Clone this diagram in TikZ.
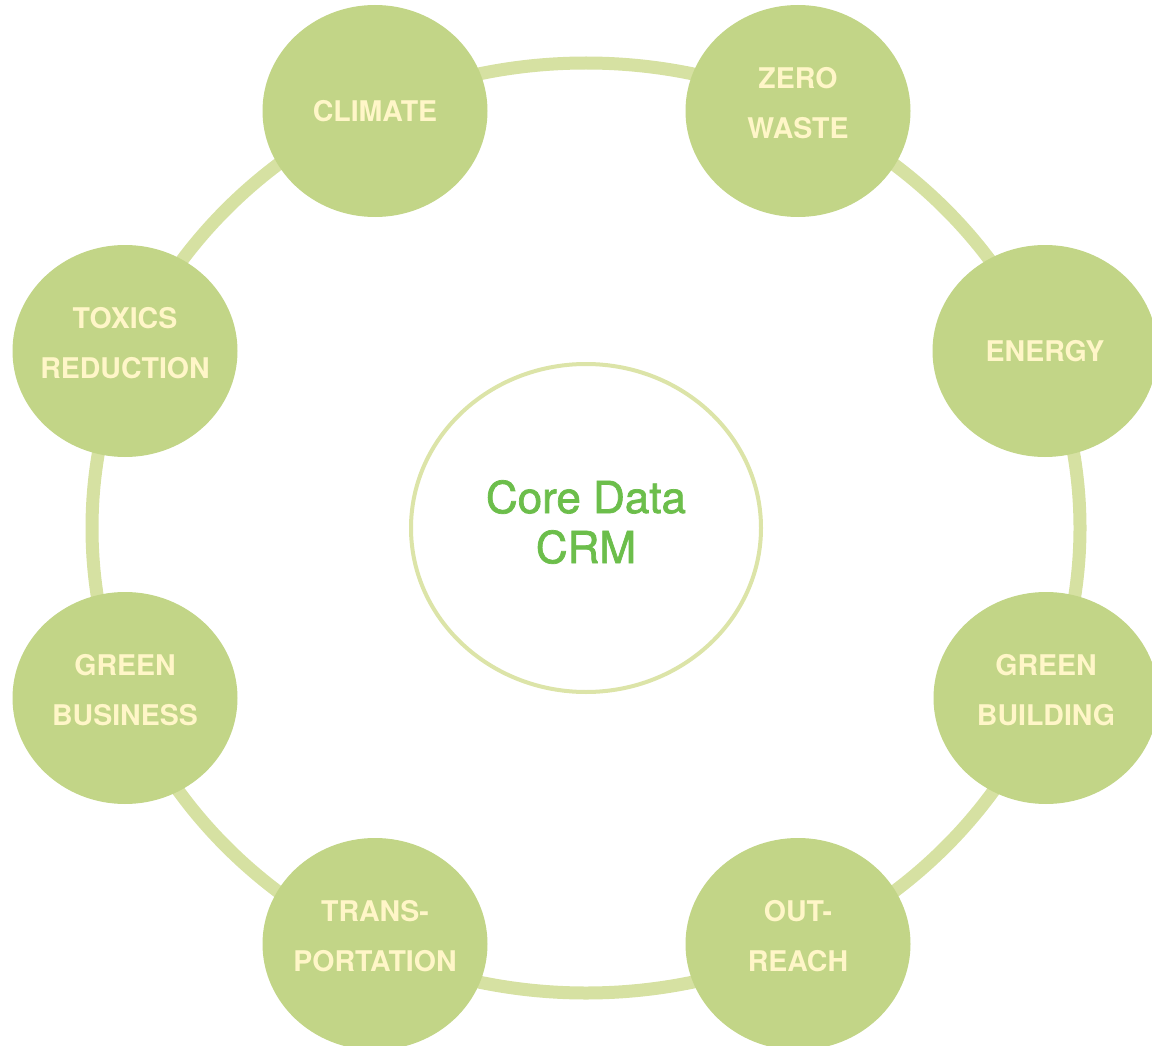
\documentclass[tikz,border=0pt]{standalone}
\usepackage{fontspec}
\setmainfont{TeX Gyre Heros}
\newfontfamily\coremed[FakeBold=1.6]{TeX Gyre Heros}
\usetikzlibrary{shapes.geometric}
\definecolor{bubblefill}{HTML}{C2D587}
\definecolor{ringcol}{HTML}{D6E1A2}
\definecolor{corering}{HTML}{DCE4A8}
\definecolor{bubbletext}{HTML}{FFF6C8}
\definecolor{coretext}{HTML}{6CBE4B}
\tikzset{
  bubble/.style={ellipse, fill=bubblefill, minimum width=225pt, minimum height=212pt, inner sep=0pt},
  btxt/.style={text=bubbletext, font=\fontsize{28.5}{50}\selectfont\bfseries, align=center, inner sep=0pt},
  core/.style={ellipse, draw=corering, line width=4pt, fill=white, minimum width=350pt, minimum height=328pt, inner sep=0pt},
  coretxt/.style={text=coretext, font=\coremed\fontsize{44}{50}\selectfont, align=center, inner sep=0pt},
  ring/.style={draw=ringcol, line width=13pt}
}
\begin{document}
\begin{tikzpicture}[x=1pt,y=-1pt]
\useasboundingbox (0,0) rectangle (1152,1046);
\coordinate (ctr) at (586,528);
\draw[ring] (ctr) ellipse [x radius=494pt, y radius=465pt];
\node[core] (coreC) at (ctr) {};
\node[coretxt] (coreT) at ([yshift=6pt]coreC.center) {Core Data\\CRM};
\node[bubble] (climate) at (375,111) {};
\node[btxt] at (climate) {CLIMATE};
\node[bubble] (zero) at (798,111) {};
\node[btxt] at ([yshift=8pt]zero.center) {ZERO\\WASTE};
\node[bubble] (energy) at (1045,351) {};
\node[btxt] at (energy) {ENERGY};
\node[bubble] (gbuild) at (1046,698) {};
\node[btxt] at ([yshift=8pt]gbuild.center) {GREEN\\BUILDING};
\node[bubble] (outreach) at (798,944) {};
\node[btxt] at ([yshift=8pt]outreach.center) {OUT-\\REACH};
\node[bubble] (trans) at (375,944) {};
\node[btxt] at ([yshift=8pt]trans.center) {TRANS-\\PORTATION};
\node[bubble] (gbus) at (125,698) {};
\node[btxt] at ([yshift=8pt]gbus.center) {GREEN\\BUSINESS};
\node[bubble] (toxics) at (125,351) {};
\node[btxt] at ([yshift=8pt]toxics.center) {TOXICS\\REDUCTION};
\end{tikzpicture}
\end{document}
